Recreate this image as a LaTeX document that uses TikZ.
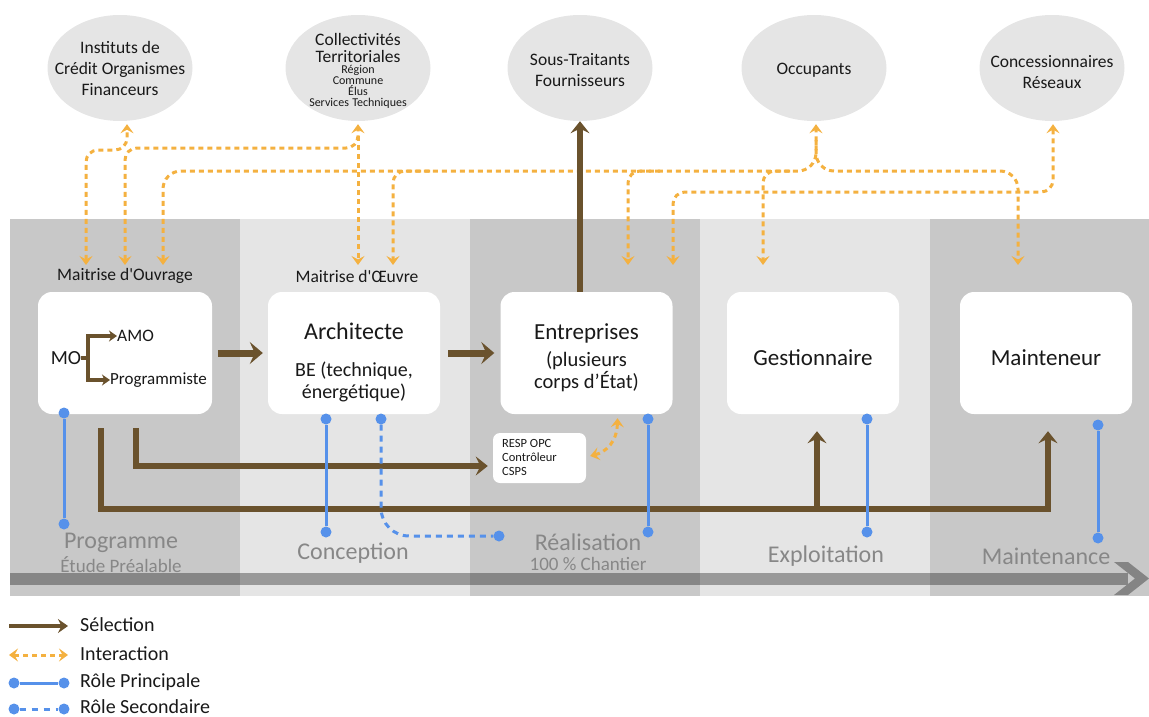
\documentclass[tikz,border=0pt]{standalone}
\usepackage{fontspec}
\setmainfont{Carlito}[Ligatures=TeXOff]
\usetikzlibrary{arrows.meta,shapes.geometric}
\definecolor{brn}{RGB}{106,82,45}
\definecolor{org}{RGB}{244,177,64}
\definecolor{blu}{RGB}{86,145,234}
\definecolor{dcol}{RGB}{200,200,200}
\definecolor{lcol}{RGB}{229,229,229}
\definecolor{bub}{RGB}{229,229,229}
\definecolor{gtxt}{RGB}{135,135,135}
\definecolor{txt}{RGB}{25,25,25}
\definecolor{chev}{RGB}{132,132,132}
\newcommand\fz[2]{\fontsize{#1}{#2}\selectfont}
\begin{document}
\begin{tikzpicture}[x=1pt,y=-1pt,
 every node/.style={text=txt},
 bubble/.style={ellipse, fill=bub, minimum width=145pt, minimum height=106pt, inner sep=0pt},
 btxt/.style={align=center, font=\fz{17.5}{21}, inner sep=0pt},
 box/.style={rectangle, rounded corners=14pt, fill=white, minimum width=172pt, minimum height=122pt, inner sep=0pt},
 bigtxt/.style={font=\fz{23}{26}, inner sep=0pt},
 coltxt/.style={text=gtxt, font=\fz{24}{26}, inner sep=0pt},
 colsub/.style={text=gtxt, font=\fz{19}{21}, inner sep=0pt},
 inter/.style={draw=org, line width=3pt, dash pattern=on 5pt off 4pt, rounded corners=12pt},
 oboth/.style={inter, {Stealth[length=9pt,width=13pt,inset=3.5pt]}-{Stealth[length=9pt,width=13pt,inset=3.5pt]}},
 oend/.style={inter, -{Stealth[length=9pt,width=13pt,inset=3.5pt]}},
 sel/.style={draw=brn, line width=5.5pt, -{Stealth[length=12pt,width=19pt,inset=4.5pt]}},
 selbig/.style={draw=brn, line width=7pt, -{Stealth[length=13pt,width=22pt,inset=5pt]}},
 role/.style={draw=blu, line width=3pt},
 role2/.style={draw=blu, line width=3pt, dash pattern=on 6pt off 5pt, rounded corners=28pt},
 dotc/.style={fill=blu, circle, inner sep=0pt, minimum size=11pt},
 legtxt/.style={anchor=west, font=\fz{20}{22}, inner sep=0pt}]
\useasboundingbox (0,0) rectangle (1149,717);
% phase columns
\fill[dcol] (10,219) rectangle (240,596);
\fill[lcol] (240,219) rectangle (470,596);
\fill[dcol] (470,219) rectangle (700,596);
\fill[lcol] (700,219) rectangle (930,596);
\fill[dcol] (930,219) rectangle (1149,596);
% time bar
\fill[black, opacity=0.33] (10,573) rectangle (1128,585);
\fill[chev] (1114,562) -- (1128,562) -- (1149,578.5) -- (1128,595) -- (1114,595) -- (1135,578.5) -- cycle;
% bubbles
\node[bubble] (inst) at (120,68) {};
\node[bubble] (coll) at (358,68) {};
\node[bubble] (sous) at (580,68) {};
\node[bubble] (occ) at (814,68) {};
\node[bubble] (conc) at (1052,68) {};
\node[btxt] (instT) at (120,68.5) {Instituts de\\Crédit Organismes\\Financeurs};
\node[align=center, inner sep=0pt, text width=140pt] (collT) at (358,70.5)
 {\fz{17.5}{17}Collectivités\par Territoriales\par\vspace{1pt}\fz{12}{10.8}Région\par Commune\par Élus\par Services Techniques\par};
\node[btxt] (sousT) at (580,70) {Sous-Traitants\\Fournisseurs};
\node[btxt] (occT) at (814,70) {Occupants};
\node[btxt] (concT) at (1052,72) {Concessionnaires\\Réseaux};
% orange interaction lines
\coordinate (iTop) at ([xshift=7pt,yshift=-3pt]inst.south);
\coordinate (cTop) at ([yshift=-3pt]coll.south);
\coordinate (oTop) at ([xshift=2pt,yshift=-3pt]occ.south);
\coordinate (kTop) at ([xshift=1pt,yshift=-3pt]conc.south);
\coordinate (m1) at (86,265);
\coordinate (m2) at (125,265);
\coordinate (m3) at (163,265);
\coordinate (e1) at (358,265);
\coordinate (e2) at (393,265);
\coordinate (r1) at (628,265);
\coordinate (r2) at (673,265);
\coordinate (g1) at (763,265);
\coordinate (t1) at (1018,265);
\draw[oboth] (m1) -- (86,150) -- (iTop |- 0,150) -- (iTop);
\draw[oboth] (m2) -- (125,148) -- (cTop |- 0,148) -- (cTop);
\draw[oend] ([yshift=-12pt]cTop) -- (e1);
\draw[oboth, rounded corners=18pt] (m3) -- (163,171) -- (oTop |- 0,171) -- (oTop);
\draw[oend, rounded corners=18pt] ([yshift=-16pt]oTop) -- (oTop |- 0,171) -- (1018,171) -- (t1);
\draw[oend] (430,171) -- (393,171) -- (e2);
\draw[oend] (660,171) -- (628,171) -- (r1);
\draw[oend] (790,171) -- (763,171) -- (g1);
\draw[oboth] (r2) -- (673,192) -- (kTop |- 0,192) -- (kTop);
% white boxes
\node[box, minimum width=174pt] (mo) at (125,353) {};
\node[box] (arch) at (354,353) {};
\node[box] (ent) at (586.5,353) {};
\node[box] (gest) at (813,353) {};
\node[box] (maint) at (1046,353) {};
\node[rectangle, rounded corners=7pt, fill=white, minimum width=93pt, minimum height=50pt, inner sep=0pt] (resp) at (539.5,458) {};
% labels
\node[font=\fz{17.5}{20}, inner sep=0pt] (mol) at (125,276) {Maitrise d'Ouvrage};
\node[font=\fz{17.5}{20}, inner sep=0pt] (moel) at (357,276) {Maitrise d'Œuvre};
% box texts
\node[font=\fz{20}{22}, inner sep=0pt] (moT) at (66,358) {MO};
\node[font=\fz{17.5}{20}, inner sep=0pt, anchor=west] (amo) at (117,336) {AMO};
\node[font=\fz{17}{20}, inner sep=0pt, anchor=west] (prog) at (110,380) {Programmiste};
\draw[brn, line width=3.5pt] (moT.east) -- (88,358);
\draw[brn, line width=3.5pt, line join=miter, {Stealth[length=8pt,width=11pt,inset=2.5pt]}-{Stealth[length=8pt,width=11pt,inset=2.5pt]}] (amo.west) -- (88,336) -- (88,380) -- (prog.west);
\node[font=\fz{24}{26}, inner sep=0pt] (archT) at (354,331) {Architecte};
\node[align=center, font=\fz{20}{21.5}, inner sep=0pt] (beT) at (354,382) {BE (technique,\\énergétique)};
\node[bigtxt] (entT) at (586.5,333) {Entreprises};
\node[align=center, font=\fz{20.5}{22}, inner sep=0pt] (entS) at (586.5,372) {(plusieurs\\corps d’État)};
\node[bigtxt] (gestT) at (813,358) {Gestionnaire};
\node[bigtxt] (maintT) at (1046,358) {Mainteneur};
\node[align=left, anchor=west, font=\fz{12.5}{14}, inner sep=0pt] (respT) at (502,457) {RESP OPC\\Contrôleur\\CSPS};
% phase labels
\node[coltxt] (pl1) at (121,543) {Programme};
\node[colsub] (pl1s) at (121,565) {Étude Préalable};
\node[coltxt] (pl2) at (353,553) {Conception};
\node[coltxt] (pl3) at (588,542) {Réalisation};
\node[colsub] (pl3s) at (588,564) {100 \% Chantier};
\node[coltxt] (pl4) at (826,556) {Exploitation};
\node[coltxt] (pl5) at (1046,556) {Maintenance};
% selection (brown)
\draw[selbig] ([xshift=6pt]mo.east) -- ([xshift=-5pt]arch.west);
\draw[selbig] ([xshift=8pt]arch.east) -- ([xshift=-6pt]ent.west);
\draw[sel] (sous.south |- ent.north) -- (sous.south);
\coordinate (selB) at ([xshift=11pt,yshift=-14pt]mo.south);
\draw[sel, line join=miter] (selB) |- ([xshift=-5pt,yshift=-8pt]resp.west);
\coordinate (selA) at ([xshift=-24pt,yshift=-14pt]mo.south);
\coordinate (selM) at ([xshift=2pt,yshift=-17pt]maint.south);
\coordinate (selG) at ([xshift=4pt,yshift=-17pt]gest.south);
\draw[sel, line join=miter] (selA) -- (selA |- 0,509) -- (selM |- 0,509) -- (selM);
\draw[sel] (selG |- 0,509) -- (selG);
% interaction RESP
\coordinate (ri) at ([xshift=4pt,yshift=2pt]resp.east);
\coordinate (ru) at ([xshift=31pt,yshift=-4pt]ent.south);
\draw[oboth, rounded corners=0pt] (ri) .. controls (606,452) and (617,442) .. (ru);
% roles (blue)
\node[dotc] (b1a) at (64,413) {};
\node[dotc] (b1b) at (64,524) {};
\node[dotc] (b2a) at (326,419) {};
\node[dotc] (b2b) at (326,532) {};
\node[dotc] (b3a) at (381,419) {};
\node[dotc] (b3b) at (499,536) {};
\node[dotc] (b4a) at (648,419) {};
\node[dotc] (b4b) at (648,532) {};
\node[dotc] (b5a) at (867,419) {};
\node[dotc] (b5b) at (867,532) {};
\node[dotc] (b6a) at (1098,425) {};
\node[dotc] (b6b) at (1098,538) {};
\draw[role] (b1a) -- (b1b);
\draw[role] (b2a) -- (b2b);
\draw[role2] (b3a) -- (b3a |- b3b) -- (b3b);
\draw[role] (b4a) -- (b4b);
\draw[role] (b5a) -- (b5b);
\draw[role] (b6a) -- (b6b);
% legend
\coordinate (l1a) at (9,626); \coordinate (l1b) at (68,626);
\draw[brn, line width=3.5pt, -{Stealth[length=10pt,width=14pt,inset=3.5pt]}] (l1a) -- (l1b);
\node[legtxt] (lg1) at (80,625) {Sélection};
\coordinate (l2a) at (9,655); \coordinate (l2b) at (68,655);
\draw[oboth] (l2a) -- (l2b);
\node[legtxt] (lg2) at (80,654) {Interaction};
\node[dotc] (l3a) at (14,683) {};
\node[dotc] (l3b) at (64,683) {};
\draw[role] (l3a) -- (l3b);
\node[legtxt] (lg3) at (80,682) {Rôle Principale};
\node[dotc] (l4a) at (14,709) {};
\node[dotc] (l4b) at (64,709) {};
\draw[role, dash pattern=on 6pt off 6pt] (l4a) -- (l4b);
\node[legtxt] (lg4) at (80,707) {Rôle Secondaire};
\end{tikzpicture}
\end{document}
